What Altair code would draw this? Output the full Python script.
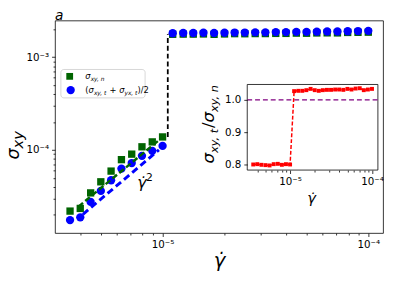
import altair as alt
import pandas as pd

# ---------------- data ----------------
rate = [3.55e-6, 3.98e-6, 4.47e-6, 5.01e-6, 5.62e-6, 6.31e-6, 7.08e-6, 7.94e-6, 8.91e-6, 1.00e-5,
        1.12e-5, 1.26e-5, 1.41e-5, 1.58e-5, 1.78e-5, 2.00e-5, 2.24e-5, 2.51e-5, 2.82e-5, 3.16e-5,
        3.55e-5, 3.98e-5, 4.47e-5, 5.01e-5, 5.62e-5, 6.31e-5, 7.08e-5, 7.94e-5, 8.91e-5, 1.00e-4]

sigma_n = [2.19e-5, 2.34e-5, 3.44e-5, 4.53e-5, 5.91e-5, 7.85e-5, 9.00e-5, 1.08e-4, 1.22e-4, 1.38e-4,
           1.762e-3, 1.770e-3, 1.770e-3, 1.777e-3, 1.760e-3, 1.777e-3, 1.790e-3, 1.786e-3, 1.794e-3, 1.794e-3,
           1.802e-3, 1.802e-3, 1.814e-3, 1.809e-3, 1.822e-3, 1.826e-3, 1.824e-3, 1.845e-3, 1.851e-3, 1.857e-3]

sigma_t = [1.752e-5, 1.874e-5, 2.749e-5, 3.615e-5, 4.710e-5, 6.288e-5, 7.218e-5, 8.629e-5, 9.772e-5, 1.104e-4,
           1.81e-3, 1.82e-3, 1.82e-3, 1.83e-3, 1.82e-3, 1.83e-3, 1.84e-3, 1.84e-3, 1.85e-3, 1.85e-3,
           1.86e-3, 1.86e-3, 1.87e-3, 1.87e-3, 1.88e-3, 1.89e-3, 1.89e-3, 1.90e-3, 1.91e-3, 1.92e-3]

ratio = [0.800, 0.801, 0.799, 0.798, 0.797, 0.801, 0.802, 0.799, 0.801, 0.800,
         1.027, 1.028, 1.028, 1.030, 1.034, 1.030, 1.028, 1.030, 1.031, 1.031,
         1.032, 1.032, 1.031, 1.034, 1.032, 1.035, 1.036, 1.030, 1.032, 1.034]

fit_n_rate = [3.9e-6, 1.0e-5]
fit_n_val = [2.45e-5, 1.37e-4]
fit_t_rate = [4.1e-6, 9.6e-6]
fit_t_val = [2.02e-5, 1.0e-4]

jump_rate = [1.06e-5, 1.06e-5]
jump_val = [1.38e-4, 1.76e-3]

ref_rate = [3.0e-6, 1.18e-4]
ref_ratio = [1.0, 1.0]

main_x_ticks = [1e-5, 1e-4]
main_x_minor = [4e-6, 5e-6, 6e-6, 7e-6, 8e-6, 9e-6,
                2e-5, 3e-5, 4e-5, 5e-5, 6e-5, 7e-5, 8e-5, 9e-5]
main_y_ticks = [1e-4, 1e-3]
main_y_minor = [2e-5, 3e-5, 4e-5, 5e-5, 6e-5, 7e-5, 8e-5, 9e-5,
                2e-4, 3e-4, 4e-4, 5e-4, 6e-4, 7e-4, 8e-4, 9e-4, 2e-3]
inset_y_ticks = [0.8, 0.9, 1.0]

# ---------------- layout ----------------
FONT = "DejaVu Sans"
W, H = 335, 217
XD = [3.0e-6, 1.18e-4]
YD = [1.27e-5, 2.48e-3]
IN_X = [196.3, 329.7]
IN_Y = [152.7, 65.3]
IN_YD = [0.7827, 1.0476]

X_MAIN = alt.Scale(type="log", domain=XD, range=[0, W], nice=False)
Y_MAIN = alt.Scale(type="log", domain=YD, range=[H, 0], nice=False)
X_IN = alt.Scale(type="log", domain=XD, range=IN_X, nice=False)
Y_IN = alt.Scale(type="linear", domain=IN_YD, range=IN_Y, nice=False, zero=False)

SUP = "datum.value < 3e-5 ? '10\u207b\u2075' : '10\u207b\u2074'"
SUPY = "datum.value < 3e-4 ? '10\u207b\u2074' : '10\u207b\u00b3'"

def ax(orient, values, major=True, expr=None, fmt=None, offset=0, z=0):
    kw = dict(orient=orient, values=values, title=None, grid=False, domain=False,
              tickColor="black", tickWidth=0.8, tickSize=3.5 if major else 2,
              labels=major, labelFont=FONT, labelFontSize=10.5, labelColor="black",
              labelPadding=3, labelFlush=False, labelOverlap=False, labelBound=False,
              offset=offset, zindex=z)
    if expr:
        kw["labelExpr"] = expr
    if fmt:
        kw["format"] = fmt
    return alt.Axis(**kw)

df = pd.DataFrame({"rate": rate, "sn": sigma_n, "st": sigma_t, "ratio": ratio})
fit_n = pd.DataFrame({"rate": fit_n_rate, "v": fit_n_val})
fit_t = pd.DataFrame({"rate": fit_t_rate, "v": fit_t_val})
jump = pd.DataFrame({"rate": jump_rate, "v": jump_val})
ref = pd.DataFrame({"rate": ref_rate, "v": ref_ratio})
ONE = pd.DataFrame({"k": [0]})

green = alt.Chart(df).mark_square(size=56, color="#006400", opacity=1).encode(
    x=alt.X("rate:Q", scale=X_MAIN, axis=ax("bottom", main_x_ticks, expr=SUP)),
    y=alt.Y("sn:Q", scale=Y_MAIN, axis=ax("left", main_y_ticks, expr=SUPY)))
blue = alt.Chart(df).mark_circle(size=72, color="#0000ff", opacity=1).encode(
    x=alt.X("rate:Q", scale=X_MAIN, axis=ax("bottom", main_x_minor, major=False)),
    y=alt.Y("st:Q", scale=Y_MAIN, axis=ax("left", main_y_minor, major=False)))
fit_green = alt.Chart(fit_n).mark_line(color="#006400", strokeWidth=2.5, strokeDash=[6, 3]).encode(
    x=alt.X("rate:Q", scale=X_MAIN, axis=None), y=alt.Y("v:Q", scale=Y_MAIN, axis=None))
fit_blue = alt.Chart(fit_t).mark_line(color="#0000ff", strokeWidth=3, strokeDash=[7, 4]).encode(
    x=alt.X("rate:Q", scale=X_MAIN, axis=None), y=alt.Y("v:Q", scale=Y_MAIN, axis=None))
jump_line = alt.Chart(jump).mark_line(color="black", strokeWidth=1.8, strokeDash=[5, 3]).encode(
    x=alt.X("rate:Q", scale=X_MAIN, axis=None), y=alt.Y("v:Q", scale=Y_MAIN, axis=None))

def rect(x1, x2, y1, y2, stroke, fill="white", r=0, sw=0.8):
    return alt.Chart(ONE).mark_rect(fill=fill, stroke=stroke, strokeWidth=sw, cornerRadius=r).encode(
        x=alt.value(x1), x2=alt.value(x2), y=alt.value(y1), y2=alt.value(y2))

def txt(s, x, y, size, angle=0, italic=False, align="left", color="black"):
    return alt.Chart(ONE).mark_text(text=s, font=FONT, fontSize=size, angle=angle, align=align,
                                    baseline="alphabetic", color=color,
                                    fontStyle="italic" if italic else "normal").encode(
        x=alt.value(x), y=alt.value(y))

W_EM = {"\u03c3": 0.634, "x": 0.592, "y": 0.592, ",": 0.318, " ": 0.318, "t": 0.392, "n": 0.634,
        "(": 0.390, ")": 0.390, "+": 0.838, "/": 0.337, "2": 0.636}

def rich(pieces, x0, y0, vertical=False):
    out = []
    pos = 0.0
    for s, size, shift, italic in pieces:
        lead = (len(s) - len(s.lstrip(" "))) * W_EM[" "] * size
        p = pos + lead
        if vertical:
            out.append(txt(s.strip(), x0 + shift, y0 - p, size, angle=270, italic=italic))
        else:
            out.append(txt(s.strip(), x0 + p, y0 + shift, size, italic=italic))
        pos += sum(W_EM.get(c, 0.6) for c in s) * size
    return out

S = "\u03c3"
GD = "\u03b3\u0307"

# legend
legend = [rect(6, 92, 50, 79, "#cccccc", r=3),
          alt.Chart(ONE).mark_square(size=48, color="#006400", opacity=1).encode(x=alt.value(15), y=alt.value(57)),
          alt.Chart(ONE).mark_circle(size=72, color="#0000ff", opacity=1).encode(x=alt.value(16), y=alt.value(71))]
legend += rich([(S, 8.5, 0, True), ("xy, n", 6, 2, True)], 31, 60)
legend += rich([("(", 8.5, 0, False), (S, 8.5, 0, True), ("xy, t", 6, 2, True), (" + ", 8.5, 0, False),
                (S, 8.5, 0, True), ("yx, t", 6, 2, True), (")/2", 8.5, 0, False)], 31, 74)

# inset
inset_frame = rect(IN_X[0], IN_X[1], IN_Y[1], IN_Y[0], "black")
ref_line = alt.Chart(ref).mark_line(color="#800080", strokeWidth=1.5, strokeDash=[5, 3]).encode(
    x=alt.X("rate:Q", scale=X_IN, axis=None), y=alt.Y("v:Q", scale=Y_IN, axis=None))
red_line = alt.Chart(df).mark_line(color="#ff0000", strokeWidth=1.5, strokeDash=[4, 2]).encode(
    x=alt.X("rate:Q", scale=X_IN, axis=ax("bottom", main_x_ticks, expr=SUP, offset=-(H - IN_Y[0]), z=1)),
    y=alt.Y("ratio:Q", scale=Y_IN, axis=ax("left", inset_y_ticks, fmt=".1f", offset=-IN_X[0], z=1)))
red_pts = alt.Chart(df).mark_square(size=16, color="#ff0000", opacity=1).encode(
    x=alt.X("rate:Q", scale=X_IN, axis=ax("bottom", main_x_minor, major=False, offset=-(H - IN_Y[0]), z=1)),
    y=alt.Y("ratio:Q", scale=Y_IN, axis=None))

texts = [txt("a", 0, -1, 14, italic=True),
         txt(GD, 168, 252, 20, italic=True, align="center"),
         txt(GD, 262, 186, 15, italic=True, align="center"),
         txt(GD, 84, 171, 16, italic=True),
         txt("2", 93, 164, 11)]
texts += rich([(S, 18, 0, True), ("xy", 15, 4, True)], -36.5, 142, vertical=True)
texts += rich([(S, 17, 0, True), ("xy, t", 11.5, 3.5, True), ("/", 17, 0, False), (S, 17, 0, True),
               ("xy, n", 11.5, 3.5, True)], 162.5, 146, vertical=True)

chart = alt.layer(
    green, blue, fit_green, fit_blue, jump_line,
    *legend,
    inset_frame, ref_line, red_line, red_pts,
    *texts,
).resolve_scale(x="independent", y="independent").resolve_axis(
    x="independent", y="independent"
).properties(
    width=W, height=H,
    autosize=alt.AutoSizeParams(type="none"),
    padding={"left": 48, "top": 10, "right": 4, "bottom": 38},
).configure_view(stroke="black", strokeWidth=0.8)

chart.save("out.html", embed_options={"renderer": "svg", "actions": False})
